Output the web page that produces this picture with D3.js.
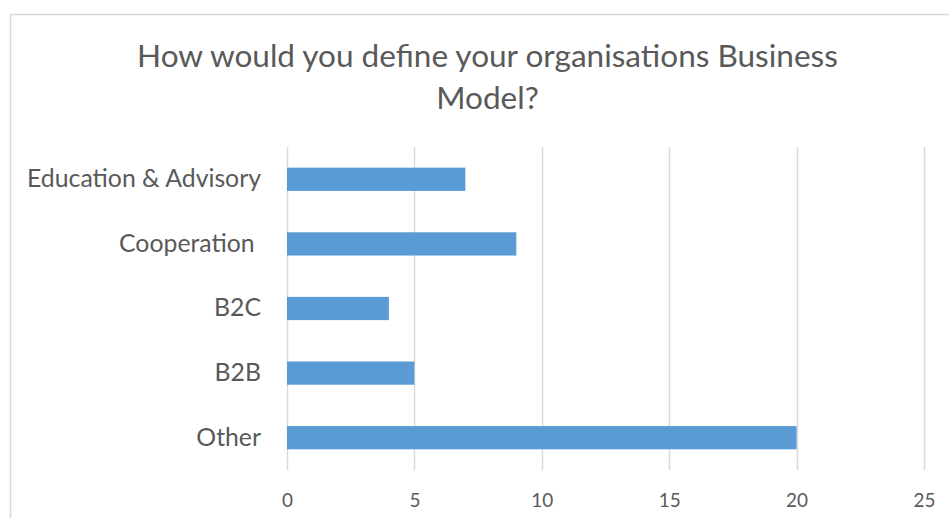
<!DOCTYPE html>
<html>
<head>
<meta charset="utf-8">
<script src="https://cdn.jsdelivr.net/npm/d3@7"></script>
<style>
  html, body { margin: 0; padding: 0; background: #fff; }
  svg { display: block; }
  text { font-family: Lato, "Open Sans", sans-serif; fill: #595959; white-space: pre; }
</style>
</head>
<body>
<svg id="chart" width="949" height="518"></svg>
<script>
// Survey answers: business model of the organisation
const categories = ["Education & Advisory", "Cooperation ", "B2C", "B2B", "Other"];
const counts = [7, 9, 4, 5, 20];
const tickValues = [0, 5, 10, 15, 20, 25];
const titleLines = ["How would you define your organisations Business", "Model?"];

const svg = d3.select("#chart");
const W = 949, H = 518;
const FONT = "Lato, \"Open Sans\", sans-serif";

// size a text selection so that a reference string spans the given width
function fitSize(sel, sample, width, base) {
  const probe = svg.append("text").attr("font-size", base).style("font-family", FONT).text(sample);
  const len = probe.node().getComputedTextLength();
  probe.remove();
  return base * width / len;
}

// chart frame
svg.append("rect")
  .attr("x", 10.5).attr("y", 14.5)
  .attr("width", W + 20).attr("height", H + 20)
  .attr("fill", "#fff").attr("stroke", "#d9d9d9").attr("stroke-width", 1.5);

const plot = { left: 287, right: 924, top: 147, bottom: 470 };

const x = d3.scaleLinear().domain([0, 25]).range([plot.left, plot.right]);
const y = d3.scaleBand().domain(categories).range([plot.top, plot.bottom]).paddingInner(0.64).paddingOuter(0.32);

// title
const titleSize = fitSize(svg, titleLines[0], 701, 26);
const title = svg.append("text")
  .attr("text-anchor", "middle")
  .attr("font-size", titleSize);
title.selectAll("tspan").data(titleLines).join("tspan")
  .attr("x", 487.5)
  .attr("y", (d, i) => 67 + i * 42)
  .text(d => d);

// vertical gridlines
svg.append("g").selectAll("line").data(tickValues).join("line")
  .attr("x1", d => Math.round(x(d)) + 0.5).attr("x2", d => Math.round(x(d)) + 0.5)
  .attr("y1", plot.top).attr("y2", plot.bottom)
  .attr("stroke", "#d9d9d9").attr("stroke-width", 1.5);

// bars
svg.append("g").selectAll("rect").data(categories).join("rect")
  .attr("x", x(0))
  .attr("y", d => y(d))
  .attr("width", (d, i) => x(counts[i]) - x(0))
  .attr("height", y.bandwidth())
  .attr("fill", "#5b9bd5");

// x axis tick labels
const tickSize = fitSize(svg, "25", 22, 18);
const xAxis = d3.axisBottom(x).tickValues(tickValues).tickSize(0).tickPadding(0);
const gx = svg.append("g").attr("transform", `translate(0, 507)`).call(xAxis);
gx.select(".domain").remove();
gx.selectAll("text").attr("font-size", tickSize).attr("dy", 0)
  .style("font-family", FONT).attr("fill", "#595959");

// category labels (trailing spaces in a label are kept)
const catSize = fitSize(svg, categories[0], 234, 20);
const yAxis = d3.axisLeft(y).tickSize(0).tickPadding(26);
const gy = svg.append("g").attr("transform", `translate(${plot.left}, 0)`).call(yAxis);
gy.select(".domain").remove();
gy.selectAll("text").attr("font-size", catSize)
  .style("font-family", FONT).style("white-space", "pre").attr("fill", "#595959");
</script>
</body>
</html>
